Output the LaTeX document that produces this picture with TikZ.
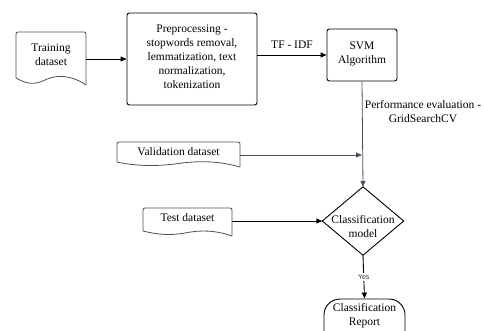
\documentclass[tikz,border=0pt]{standalone}
\usepackage{fontspec}
\setmainfont{Liberation Serif}
\newfontfamily\yesfont{Liberation Sans}
\usetikzlibrary{arrows.meta,calc}
\definecolor{slate}{HTML}{4A515C}
\tikzset{
  lbl/.style={font=\fontsize{11.5}{14}\selectfont, align=center, inner sep=0pt},
  boxnode/.style={draw=black, line width=0.9pt, rounded corners=2.5pt, inner sep=0pt},
  docline/.style={draw=slate, line width=0.8pt, rounded corners=2pt},
  blackarrow/.style={draw=black, line width=0.9pt, -{Triangle[length=6pt,width=5pt]}},
  grayarrow/.style={draw=slate, line width=0.8pt, -{Triangle[length=6pt,width=5pt]}},
}
\begin{document}
\begin{tikzpicture}[x=1pt,y=-1pt]
\useasboundingbox (0,0) rectangle (484,331);
\clip (0,0) rectangle (484,331);

% Training dataset (document shape)
\path[docline] (16,78) -- (16,32) -- (86,32) -- (86,85);
\draw[slate, line width=0.8pt] (86,85) .. controls (70,74) and (55,75) .. (45,80)
   .. controls (33,86) and (25,83) .. (16,78);
\node[lbl, minimum width=70pt, minimum height=46pt] (train) at (51,55) {Training\\dataset};

% Preprocessing
\node[boxnode, minimum width=130pt, minimum height=92pt] (pre) at (192,59) {};
\node[lbl] (pretext) at (192,57) {Preprocessing -\\stopwords removal,\\lemmatization, text\\normalization,\\tokenization};

% SVM
\node[boxnode, minimum width=70pt, minimum height=52pt] (svm) at (362,55) {};
\node[lbl] (svmtext) at (362,54) {SVM\\Algorithm};

% Validation dataset
\path[docline] (117,162) -- (117,142) -- (240,142) -- (240,167);
\draw[slate, line width=0.8pt] (240,167) .. controls (215,160) and (195,161) .. (175,164)
   .. controls (150,167) and (130,165) .. (117,162);
\node[lbl, minimum width=123pt, minimum height=26pt] (val) at (178.5,155) {};
\node[lbl] (valtext) at (178.5,152) {Validation dataset};

% Test dataset
\path[docline] (143,231) -- (143,208) -- (232,208) -- (232,236);
\draw[slate, line width=0.8pt] (232,236) .. controls (215,230) and (200,230) .. (185,233)
   .. controls (168,236) and (155,234) .. (143,231);
\node[lbl, minimum width=89pt, minimum height=26pt] (test) at (187.5,221) {};
\node[lbl] (testtext) at (187.5,218) {Test dataset};

% Classification model (diamond)
\node[inner sep=0pt, minimum width=81pt, minimum height=68pt] (cls) at (363,221) {};
\draw[black, line width=0.9pt, line join=round] (cls.north) -- (cls.east) -- (cls.south) -- (cls.west) -- cycle;
\node[lbl] (clstext) at (363,227) {Classification\\model};

% Classification Report (terminal)
\node[draw=black, line width=0.9pt, rounded corners=16pt, minimum width=81pt, minimum height=48pt, inner sep=0pt] (rep) at (364.5,323) {};
\node[lbl] (reptext) at (364.5,316) {Classification\\Report};

% connectors
\draw[blackarrow] (train.east |- pre.west) -- (pre.west);
\draw[blackarrow] (pre.east |- svm.west) -- node[lbl, above=6pt] (tfidf) {TF - IDF} (svm.west);
\coordinate (vj) at (svm.south |- val.east);
\draw[grayarrow] (svm.south) -- (cls.north);
\node[lbl, anchor=center] (perf) at (423,112) {Performance evaluation -\\GridSearchCV};
\draw[grayarrow] (val.east) -- (vj);
\draw[blackarrow] (test.east) -- (cls.west);
\draw[blackarrow] (cls.south) -- node[fill=white, inner sep=1.5pt, text=black!80, font=\yesfont\fontsize{7}{8}\selectfont, pos=0.5] (yes) {Yes} (rep.north);
\end{tikzpicture}
\end{document}
